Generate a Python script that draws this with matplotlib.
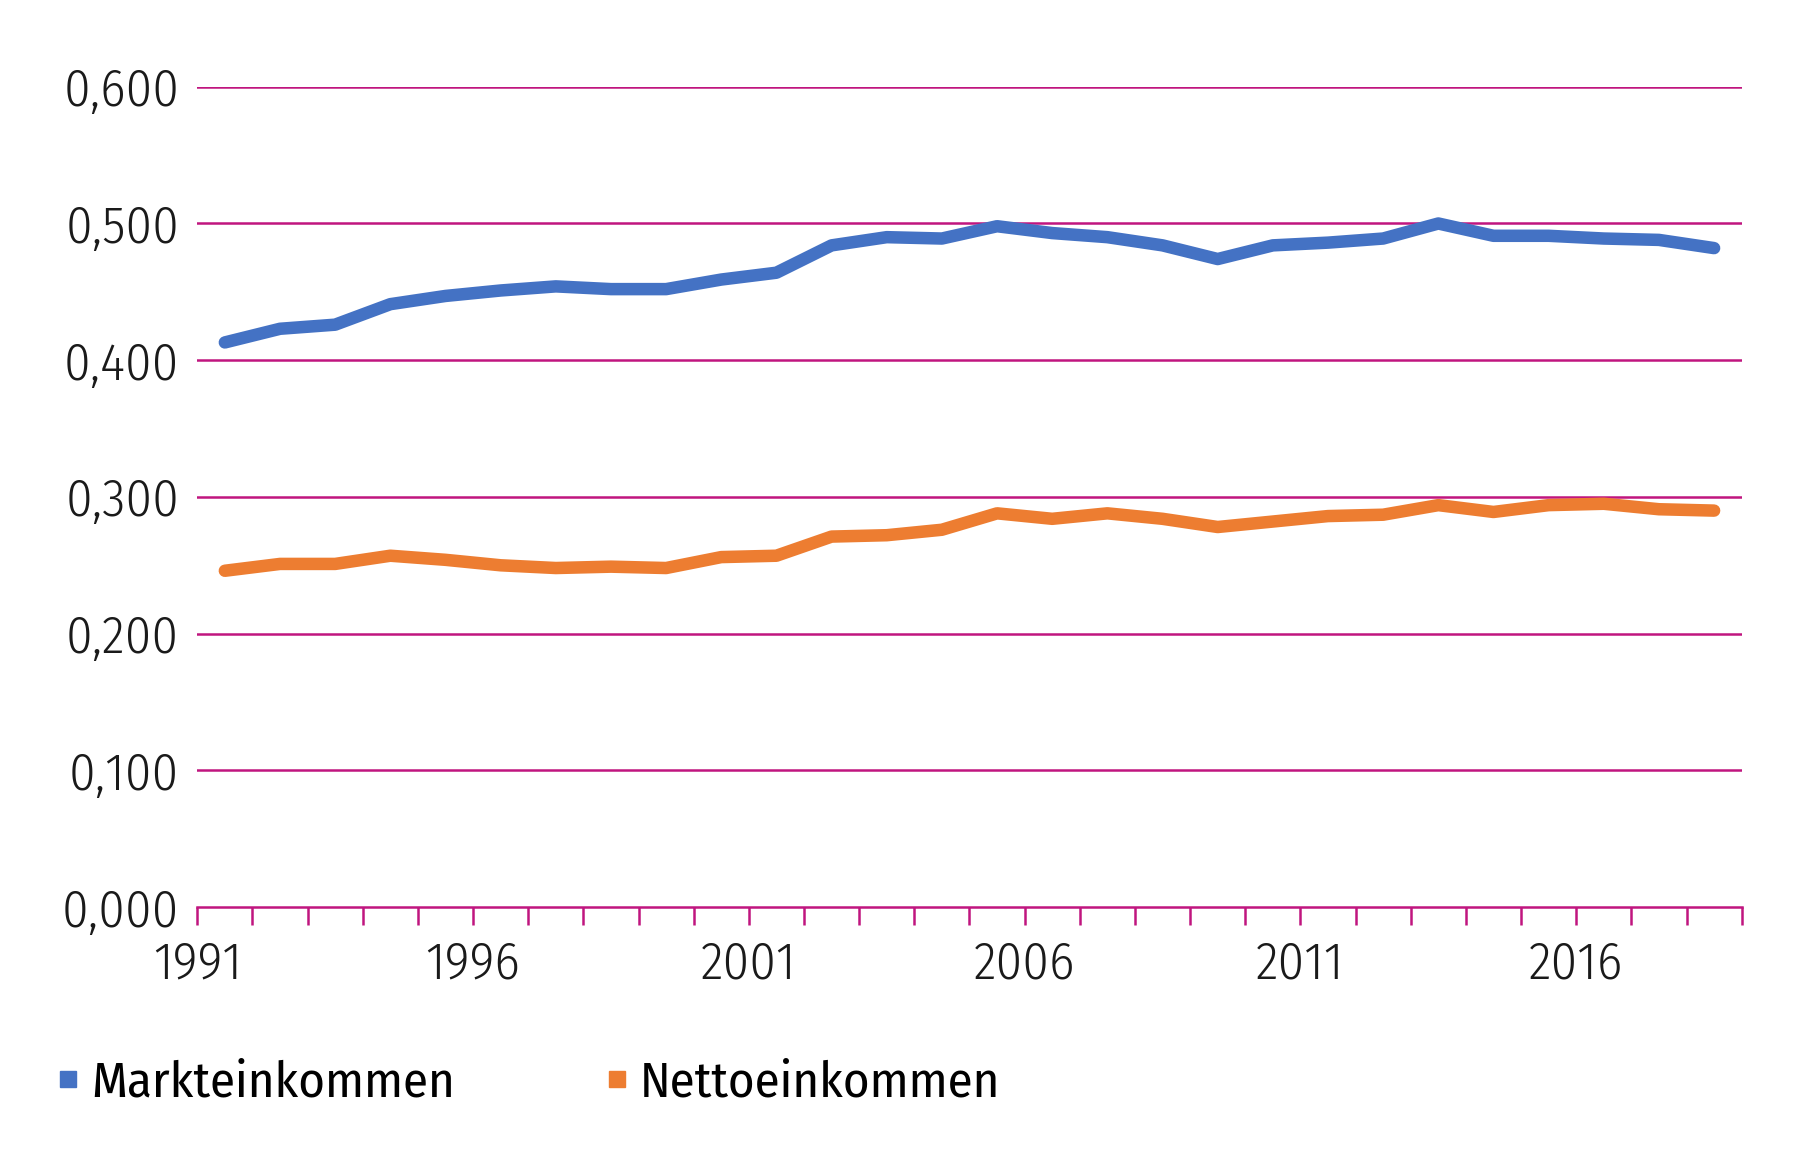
import matplotlib
matplotlib.use("Agg")
import matplotlib.pyplot as plt
from matplotlib.lines import Line2D
from matplotlib.ticker import FixedLocator, FuncFormatter

plt.rcParams['font.family'] = ['Fira Sans Condensed', 'Roboto Condensed', 'DejaVu Sans']
plt.rcParams['font.weight'] = 300

years = list(range(1991, 2019))
markt = [0.413, 0.423, 0.426, 0.441, 0.447, 0.451, 0.454, 0.452, 0.452, 0.459,
         0.464, 0.484, 0.490, 0.489, 0.498, 0.493, 0.490, 0.484, 0.474, 0.484,
         0.486, 0.489, 0.500, 0.491, 0.491, 0.489, 0.488, 0.482]
netto = [0.246, 0.251, 0.251, 0.257, 0.254, 0.250, 0.248, 0.249, 0.248, 0.256,
         0.257, 0.271, 0.272, 0.276, 0.288, 0.284, 0.288, 0.284, 0.278, 0.282,
         0.286, 0.287, 0.294, 0.289, 0.294, 0.295, 0.291, 0.290]
yticks = [0.0, 0.1, 0.2, 0.3, 0.4, 0.5, 0.6]

grid_col = '#C0157F'
blue = '#4472C4'
orange = '#ED7D31'

fig = plt.figure(figsize=(18, 11.57), dpi=100)
ax = fig.add_axes([0.1096, 0.216, 0.858, 0.709])

# Punkte liegen in der Mitte der Kategorien, Beschriftung an den Teilstrichen
x = [i + 0.5 for i in range(len(years))]
ax.plot(x, markt, color=blue, linewidth=9, solid_capstyle='round', solid_joinstyle='round', zorder=3)
ax.plot(x, netto, color=orange, linewidth=9, solid_capstyle='round', solid_joinstyle='round', zorder=3)

ax.set_xlim(0, len(years))
ax.set_ylim(0, 0.6)
ax.set_yticks(yticks)
ax.yaxis.set_major_formatter(FuncFormatter(lambda v, p: f"{v:.3f}".replace('.', ',')))
for y in yticks[1:]:
    ax.axhline(y, color=grid_col, linewidth=1.8, zorder=1)

ax.xaxis.set_major_locator(FixedLocator(range(len(years) + 1)))
ax.xaxis.set_major_formatter(FuncFormatter(
    lambda v, p: str(years[int(v)]) if int(v) % 5 == 0 and int(v) < len(years) else ''))

for s in ['top', 'right', 'left']:
    ax.spines[s].set_visible(False)
ax.spines['bottom'].set_color(grid_col)
ax.spines['bottom'].set_linewidth(1.8)

ax.tick_params(axis='y', length=0, pad=13, labelsize=38, labelcolor='#1a1a1a')
ax.tick_params(axis='x', length=13, width=1.8, color=grid_col, direction='out',
               pad=10, labelsize=38, labelcolor='#1a1a1a')

handles = [Line2D([], [], marker='s', linestyle='none', color=blue, markersize=12),
           Line2D([], [], marker='s', linestyle='none', color=orange, markersize=12)]
fig.legend(handles, ['Markteinkommen', 'Nettoeinkommen'], loc='center left',
           bbox_to_anchor=(0.0195, 0.064), ncol=2, frameon=False,
           prop={'size': 36.5, 'weight': 400},
           handlelength=0.5, handletextpad=0.2, columnspacing=2.95, borderaxespad=0)

fig.savefig('out.png', dpi=100, facecolor='white')
